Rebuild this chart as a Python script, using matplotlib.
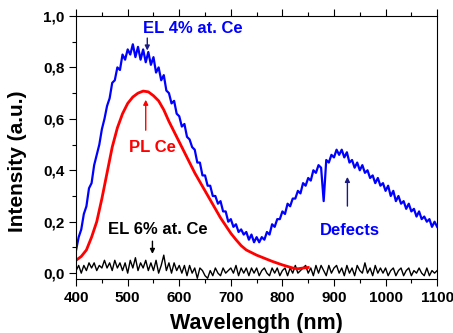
import numpy as np
import matplotlib
matplotlib.use("Agg")
import matplotlib.pyplot as plt
from matplotlib.ticker import MultipleLocator, FuncFormatter

plt.rcParams['font.family'] = ['Liberation Sans', 'DejaVu Sans']
plt.rcParams['font.weight'] = 'bold'

# EL 4% at. Ce (blue), 5 nm steps 400..1100
wl_el = np.arange(400, 1101, 5)
el4 = [
    0.09, 0.14, 0.17, 0.23, 0.26, 0.33, 0.35, 0.42, 0.46, 0.50, 0.56, 0.60, 0.65, 0.68, 0.74, 0.75, 0.80, 0.79, 0.85, 0.83,
    0.87, 0.85, 0.89, 0.84, 0.88, 0.83, 0.87, 0.82, 0.86, 0.81, 0.84, 0.78, 0.80, 0.75, 0.77, 0.71, 0.70, 0.66, 0.67, 0.62,
    0.61, 0.57, 0.58, 0.53, 0.52, 0.49, 0.48, 0.43, 0.43, 0.38, 0.38, 0.34, 0.34, 0.30, 0.30, 0.27, 0.28, 0.24, 0.24, 0.20,
    0.21, 0.18, 0.19, 0.16, 0.17, 0.15, 0.16, 0.13, 0.15, 0.12, 0.14, 0.12, 0.14, 0.13, 0.16, 0.15, 0.19, 0.18, 0.21, 0.21,
    0.24, 0.23, 0.27, 0.26, 0.29, 0.29, 0.32, 0.31, 0.35, 0.34, 0.37, 0.36, 0.40, 0.39, 0.42, 0.41, 0.28, 0.44, 0.43, 0.46,
    0.45, 0.48, 0.46, 0.48, 0.45, 0.47, 0.43, 0.44, 0.41, 0.43, 0.40, 0.42, 0.39, 0.40, 0.37, 0.38, 0.35, 0.37, 0.34, 0.35,
    0.32, 0.34, 0.30, 0.32, 0.28, 0.30, 0.27, 0.28, 0.25, 0.27, 0.24, 0.25, 0.22, 0.24, 0.21, 0.22, 0.20, 0.21, 0.18, 0.20,
    0.18,
]

# EL 6% at. Ce (black), 5 nm steps 400..1100
el6 = [
    0.01, 0.03, 0.00, 0.03, 0.01, 0.04, 0.02, 0.04, 0.01, 0.03, 0.02, 0.05, 0.02, 0.04, 0.01, 0.05, 0.02, 0.04, 0.01, 0.04,
    0.00, 0.05, 0.02, 0.06, 0.01, 0.04, 0.02, 0.05, 0.01, 0.04, 0.01, 0.05, 0.00, 0.03, 0.07, 0.01, 0.04, 0.00, 0.04, 0.01,
    0.03, 0.00, 0.03, -0.01, 0.03, 0.00, 0.02, -0.02, 0.02, 0.01, -0.01, -0.02, 0.01, -0.01, 0.02, 0.00, -0.01, 0.02, 0.00, 0.01,
    0.02, 0.00, 0.03, -0.01, 0.02, 0.00, 0.02, -0.01, 0.02, 0.00, 0.02, -0.01, 0.01, 0.02, 0.00, -0.01, 0.02, 0.00, 0.02, -0.01,
    0.01, 0.02, -0.01, 0.02, 0.00, 0.03, 0.00, 0.01, 0.02, 0.03, 0.00, 0.02, -0.01, 0.03, 0.00, 0.03, 0.01, -0.01, 0.03, 0.00,
    0.02, 0.03, 0.00, 0.02, -0.01, 0.03, 0.00, 0.02, -0.01, 0.03, 0.01, 0.00, 0.04, 0.00, 0.02, -0.01, 0.03, 0.00, 0.02, 0.00,
    0.02, -0.01, 0.01, 0.02, -0.01, 0.01, 0.02, -0.01, 0.01, 0.02, -0.01, 0.01, 0.00, 0.02, 0.00, -0.01, 0.02, -0.01, 0.01, 0.00,
    0.01,
]

# PL Ce (red), 10 nm steps 400..850
wl_pl = np.arange(400, 851, 10)
pl = [
    0.05, 0.065, 0.09, 0.14, 0.20, 0.29, 0.39, 0.49, 0.565, 0.62,
    0.66, 0.685, 0.70, 0.708, 0.705, 0.69, 0.67, 0.635, 0.59, 0.55,
    0.51, 0.47, 0.43, 0.39, 0.355, 0.32, 0.285, 0.25, 0.215, 0.185,
    0.155, 0.13, 0.107, 0.09, 0.08, 0.07, 0.062, 0.054, 0.046, 0.039,
    0.032, 0.026, 0.02, 0.017, 0.02, 0.022,
]

fig = plt.figure(figsize=(4.53, 3.33), dpi=100)
ax = fig.add_axes([0.168, 0.162, 0.797, 0.790])

ax.plot(wl_el, el6, color='black', lw=1.0)
ax.plot(wl_pl, pl, color='#ff0000', lw=2.0)
ax.plot(wl_el, el4, color='#0000ff', lw=1.6)

ax.set_xlim(400, 1100)
ax.set_ylim(-0.023, 1.0)

ax.xaxis.set_major_locator(MultipleLocator(100))
ax.xaxis.set_minor_locator(MultipleLocator(50))
ax.yaxis.set_major_locator(MultipleLocator(0.2))
ax.yaxis.set_minor_locator(MultipleLocator(0.1))
ax.yaxis.set_major_formatter(FuncFormatter(lambda v, p: f"{v:.1f}".replace('.', ',')))

ax.tick_params(which='both', direction='out', top=True, right=False, labelsize=11, width=0.8)
ax.tick_params(which='major', length=5)
ax.tick_params(which='minor', length=3)
for lab in ax.get_xticklabels() + ax.get_yticklabels():
    lab.set_fontweight('bold')

ax.set_xlabel('Wavelength (nm)', fontsize=15.5, fontweight='bold', labelpad=6)
ax.set_ylabel('Intensity (a.u.)', fontsize=15, fontweight='bold')
ax.yaxis.set_label_coords(-0.135, 0.446)

ax.text(627, 0.952, 'EL 4% at. Ce', color='#0000ff', fontsize=12, fontweight='bold', ha='center', va='center')
ax.annotate('', xy=(538, 0.855), xytext=(538, 0.925),
            arrowprops=dict(arrowstyle='-|>', color='#1a1a80', lw=1.0, mutation_scale=7))

ax.text(548, 0.49, 'PL Ce', color='#ff0000', fontsize=12, fontweight='bold', ha='center', va='center')
ax.annotate('', xy=(535, 0.685), xytext=(535, 0.545),
            arrowprops=dict(arrowstyle='-|>', color='#ff0000', lw=1.0, mutation_scale=7))

ax.text(559, 0.17, 'EL 6% at. Ce', color='black', fontsize=12, fontweight='bold', ha='center', va='center')
ax.annotate('', xy=(548, 0.064), xytext=(548, 0.135),
            arrowprops=dict(arrowstyle='-|>', color='black', lw=1.0, mutation_scale=7))

ax.text(930, 0.165, 'Defects', color='#0000ff', fontsize=12, fontweight='bold', ha='center', va='center')
ax.annotate('', xy=(926, 0.385), xytext=(926, 0.25),
            arrowprops=dict(arrowstyle='-|>', color='#1a1a80', lw=1.0, mutation_scale=7))

fig.savefig('out.png', dpi=100)
